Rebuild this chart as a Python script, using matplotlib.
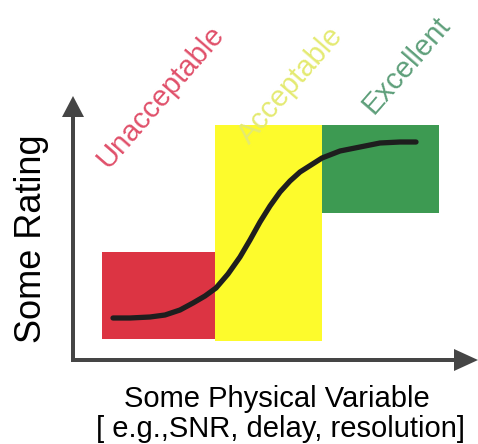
import matplotlib
matplotlib.use('Agg')
import matplotlib.pyplot as plt
from matplotlib.patches import Rectangle, FancyArrow

plt.rcParams['font.family'] = ['Liberation Sans', 'DejaVu Sans']

# zones: (x0, x1, y0, y1) in chart units, origin at the axes corner
zone_names = ['Unacceptable', 'Acceptable', 'Excellent']
zone_x0 = [29, 142, 249]
zone_x1 = [142, 249, 366]
zone_y0 = [21, 19, 147]
zone_y1 = [108, 235, 235]
zone_colors = ['#dc3443', '#fdfb2c', '#3d9a52']
label_colors = ['#e0506a', '#e4ea72', '#5e9f7a']
# where each zone label sits (middle of its baseline)
label_x = [94, 224, 339]
label_y = [258, 269, 290]

# rating curve
curve_x = [40, 57, 77, 92, 107, 120, 132, 143, 155, 167, 177, 187, 197,
           207, 217, 227, 238, 249, 267, 287, 307, 327, 343]
curve_y = [42, 42, 43, 45, 50, 57, 64, 72, 86, 103, 120, 138, 154,
           168, 179, 188, 195, 202, 209, 213, 217, 218, 218]

fig = plt.figure(figsize=(4.78, 4.44), dpi=100)
ax = fig.add_axes([0, 0, 1, 1])
ax.set_xlim(-73, 405)
ax.set_ylim(-84, 360)
ax.axis('off')

for i in range(3):
    ax.add_patch(Rectangle((zone_x0[i], zone_y0[i]), zone_x1[i] - zone_x0[i],
                           zone_y1[i] - zone_y0[i], color=zone_colors[i], lw=0, zorder=1))
    ax.text(label_x[i], label_y[i], zone_names[i], color=label_colors[i],
            fontsize=21, rotation=49, rotation_mode='anchor',
            ha='center', va='baseline', zorder=2)

ax.plot(curve_x, curve_y, color='#1e1e1e', lw=3.8, solid_capstyle='round',
        solid_joinstyle='round', zorder=3)

axis_col = '#454545'
ax.add_patch(FancyArrow(0, -2, 0, 266, width=4, head_width=22, head_length=21,
                        length_includes_head=True, color=axis_col, lw=0, zorder=4))
ax.add_patch(FancyArrow(-2, 0, 407, 0, width=4, head_width=22, head_length=24,
                        length_includes_head=True, color=axis_col, lw=0, zorder=4))

ax.text(-41, 121, 'Some Rating', fontsize=26, rotation=90, ha='center', va='center')
ax.text(204, -47, 'Some Physical Variable', fontsize=21, ha='center', va='baseline')
ax.text(208, -77, '[ e.g.,SNR, delay, resolution]', fontsize=21, ha='center', va='baseline')

fig.savefig('out.png', dpi=100)
